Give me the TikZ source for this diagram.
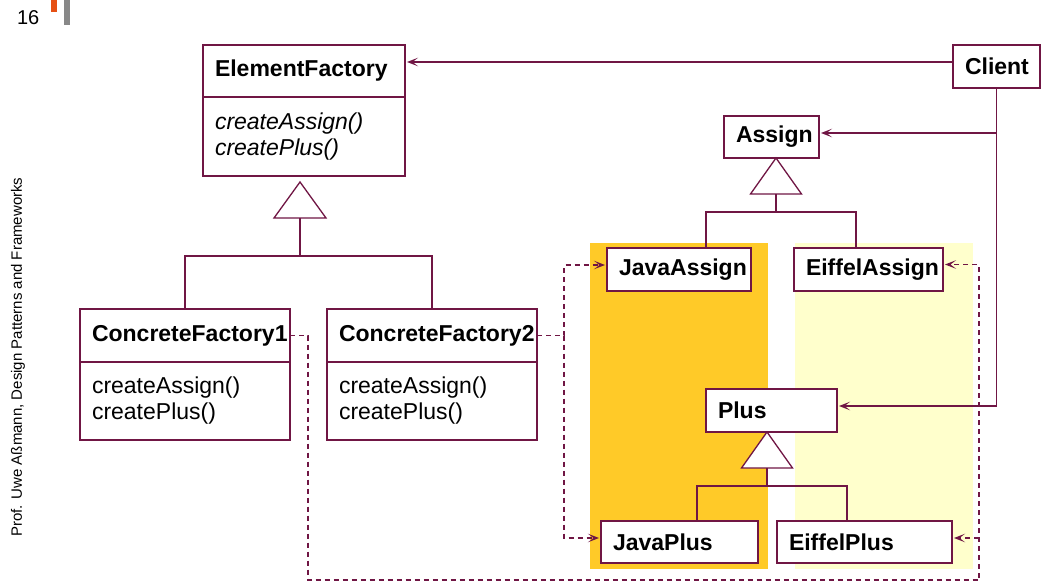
\documentclass[tikz,border=0pt]{standalone}
\usepackage{fontspec}
\setmainfont{Liberation Sans}
\usetikzlibrary{arrows.meta}
\definecolor{lc}{RGB}{112,22,68}
\definecolor{jorange}{RGB}{255,202,40}
\definecolor{eyellow}{RGB}{255,255,204}
\definecolor{barorange}{RGB}{230,80,20}
\definecolor{bargray}{RGB}{136,136,136}
\begin{document}
\begin{tikzpicture}[x=1pt,y=-1pt,
  every node/.style={inner sep=0pt, outer sep=0pt},
  box/.style={draw=lc, line width=1.3pt, fill=white, anchor=north west,
    inner xsep=12pt, inner ysep=0pt, align=left,
    font=\fontsize{23}{26}\selectfont},
  hd/.style={box, font=\fontsize{23}{26}\selectfont\bfseries},
  ibody/.style={box, font=\fontsize{23}{26}\selectfont\itshape},
  line/.style={draw=lc, line width=1.3pt},
  arr/.style={line, -{Stealth[length=11pt,width=8.5pt,inset=5.5pt]}, shorten >=2pt},
  dep/.style={arr, dash pattern=on 5pt off 4pt},
  tri/.style={line, fill=white, line join=miter}
]
\useasboundingbox (0,0) rectangle (1049,583);

% page header and side text
\node[font=\fontsize{20}{24}\selectfont, anchor=base west] (pg) at (17,25) {16};
\fill[barorange] (51,0) rectangle (57,12);
\fill[bargray] (64,0) rectangle (70,25);
\node[rotate=90, font=\fontsize{15}{18}\selectfont] (side) at (18,357)
  {Prof. Uwe Aßmann, Design Patterns and Frameworks};

% backgrounds
\fill[jorange] (590,243) rectangle (768,569);
\fill[eyellow] (795,243) rectangle (973,569);

% classes
\node[hd, minimum height=52pt, text width=178pt] (efh) at (203,45) {ElementFactory};
\node[ibody, minimum height=79pt, text width=178pt] (efb) at (203,97) {createAssign()\\createPlus()};
\node[hd, minimum height=43pt, text width=63pt] (client) at (953,45) {Client};
\node[hd, minimum height=42pt, text width=71pt] (assign) at (724,116) {Assign};
\node[hd, minimum height=53pt, text width=186pt] (cf1h) at (80,309) {ConcreteFactory1};
\node[box, minimum height=78pt, text width=186pt] (cf1b) at (80,362) {createAssign()\\createPlus()};
\node[hd, minimum height=53pt, text width=186pt] (cf2h) at (327,309) {ConcreteFactory2};
\node[box, minimum height=78pt, text width=186pt] (cf2b) at (327,362) {createAssign()\\createPlus()};
\node[hd, minimum height=43pt, text width=120pt] (ja) at (607,248) {JavaAssign};
\node[hd, minimum height=43pt, text width=125pt] (ea) at (794,248) {EiffelAssign};
\node[hd, minimum height=43pt, text width=107pt] (plus) at (706,389) {Plus};
\node[hd, minimum height=42pt, text width=133pt] (jp) at (601,521) {JavaPlus};
\node[hd, minimum height=42pt, text width=151pt] (ep) at (777,521) {EiffelPlus};

% inheritance: ElementFactory
\coordinate (t1a) at (300,182);
\coordinate (t1b) at (300,218);
\draw[tri] (t1a) -- ++(26,36) -- ++(-52,0) -- cycle;
\draw[line] (t1b) -- ++(0,38) coordinate (t1j);
\draw[line] (cf1h.north) |- (t1j) -| (cf2h.north);

% inheritance: Assign
\coordinate (t2a) at (776,158);
\coordinate (t2b) at (776,194);
\draw[tri] (t2a) -- ++(25.5,36) -- ++(-51,0) -- cycle;
\draw[line] (t2b) -- ++(0,18) coordinate (t2j);
\draw[line] ([xshift=99pt]ja.north west) |- (t2j) -| ([xshift=62pt]ea.north west);

% inheritance: Plus
\coordinate (t3a) at (767,432);
\coordinate (t3b) at (767,468);
\draw[tri] (t3a) -- ++(25.5,36) -- ++(-51,0) -- cycle;
\draw[line] (t3b) -- ++(0,18) coordinate (t3j);
\draw[line] ([xshift=96pt]jp.north west) |- (t3j) -| ([xshift=70pt]ep.north west);

% client associations
\coordinate (cw) at ([yshift=4.5pt]client.west);
\draw[arr] (cw) -- (cw -| efh.east);
\coordinate (aE) at ([yshift=4pt]assign.east);
\draw[arr] (client.south |- aE) -- (aE);
\coordinate (pE) at ([yshift=4.5pt]plus.east);
\draw[arr] (client.south) |- (pE);

% creation dependencies
\coordinate (jaIn) at ([yshift=4.5pt]ja.west);
\coordinate (jpIn) at ([yshift=4pt]jp.west);
\coordinate (eaIn) at ([yshift=5pt]ea.east);
\coordinate (epIn) at ([yshift=4pt]ep.east);
\coordinate (k1) at (308,580);
\coordinate (k2) at (564,0);
\coordinate (k3) at (979,580);
\draw[dep] (cf1h.east) -| (k1) -- (k3) |- (eaIn);
\draw[dep] (k3 |- epIn) -- (epIn);
\draw[dep] (cf2h.east) -| (k2 |- jaIn) -- (jaIn);
\draw[dep] (cf2h.east -| k2) |- (jpIn);
\end{tikzpicture}
\end{document}
